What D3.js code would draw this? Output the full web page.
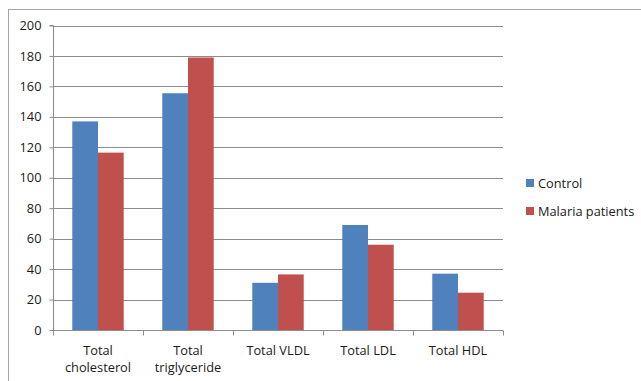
<!DOCTYPE html>
<html><head><meta charset="utf-8">
<script src="https://cdn.jsdelivr.net/npm/d3@7"></script>
<style>body{margin:0;background:#fff}svg{display:block}</style>
</head><body>
<script>
const categories = [["Total","cholesterol"],["Total","triglyceride"],["Total VLDL"],["Total LDL"],["Total HDL"]];
const seriesNames = ["Control","Malaria patients"];
const control = [137, 155.5, 31, 69, 37];
const malaria = [116.5, 179, 36.5, 56, 24.5];
const yTicks = [0,20,40,60,80,100,120,140,160,180,200];
const colors = ["#4F81BD","#C0504D"];

(function(){
const W=641,H=381;
const svg=d3.select("body").append("svg").attr("width",W).attr("height",H);
const font="'Open Sans', 'Liberation Sans', sans-serif";
const fs=12.8;
svg.append("rect").attr("x",8.5).attr("y",9.5).attr("width",W).attr("height",H)
  .attr("fill","none").attr("stroke","#A6A6A6").attr("stroke-width",1);

const pL=53, pR=503, pT=25.5, pB=330;
const x=d3.scaleBand().domain(d3.range(categories.length)).range([pL,pR]).paddingInner(0).paddingOuter(0);
const y=d3.scaleLinear().domain([0,200]).range([pB,pT]);

svg.append("g").selectAll("line").data(yTicks.filter(d=>d>0)).join("line")
  .attr("x1",pL).attr("x2",pR).attr("y1",d=>Math.round(y(d))+0.5).attr("y2",d=>Math.round(y(d))+0.5)
  .attr("stroke","#8C8C8C").attr("stroke-width",1);

const bw=x.bandwidth()/3.5;
const data=[control,malaria];
data.forEach((s,si)=>{
  svg.append("g").selectAll("rect").data(s).join("rect")
    .attr("x",(d,i)=>x(i)+x.bandwidth()*0.75/3.5+si*bw)
    .attr("width",bw)
    .attr("y",d=>y(d)).attr("height",d=>pB-y(d))
    .attr("fill",colors[si]);
});

const ya=svg.append("g").attr("transform",`translate(${pL+0.5},0)`)
  .call(d3.axisLeft(y).tickValues(yTicks).tickSize(4).tickPadding(8));
ya.select(".domain").attr("stroke","#8C8C8C").attr("d",`M-4,${pT}H0V${pB}`);
ya.selectAll(".tick line").attr("stroke","#8C8C8C");
ya.selectAll("text").attr("font-family",font).attr("font-size",fs).attr("fill","#1a1a1a");

const xa=svg.append("g").attr("transform",`translate(0,${pB+0.5})`);
xa.append("line").attr("x1",pL).attr("x2",pR).attr("stroke","#8C8C8C");
xa.selectAll("line.t").data(d3.range(categories.length+1)).join("line").attr("class","t")
  .attr("x1",i=>Math.round(pL+i*x.bandwidth())+0.5).attr("x2",i=>Math.round(pL+i*x.bandwidth())+0.5)
  .attr("y1",0).attr("y2",5).attr("stroke","#8C8C8C");
const lab=svg.append("g").selectAll("text").data(categories).join("text")
  .attr("font-family",font).attr("font-size",fs).attr("fill","#1a1a1a").attr("text-anchor","middle");
lab.each(function(d,i){
  const t=d3.select(this);
  d.forEach((line,li)=>{
    t.append("tspan").attr("x",x(i)+x.bandwidth()/2).attr("y",355+li*17).text(line);
  });
});

const lg=svg.append("g");
seriesNames.forEach((n,i)=>{
  const cy=183+i*28;
  lg.append("rect").attr("x",526).attr("y",cy-4).attr("width",8).attr("height",8).attr("fill",colors[i]);
  lg.append("text").attr("x",538).attr("y",cy+4.5).attr("font-family",font).attr("font-size",fs).attr("fill","#1a1a1a").text(n);
});
})();
</script>
</body></html>
